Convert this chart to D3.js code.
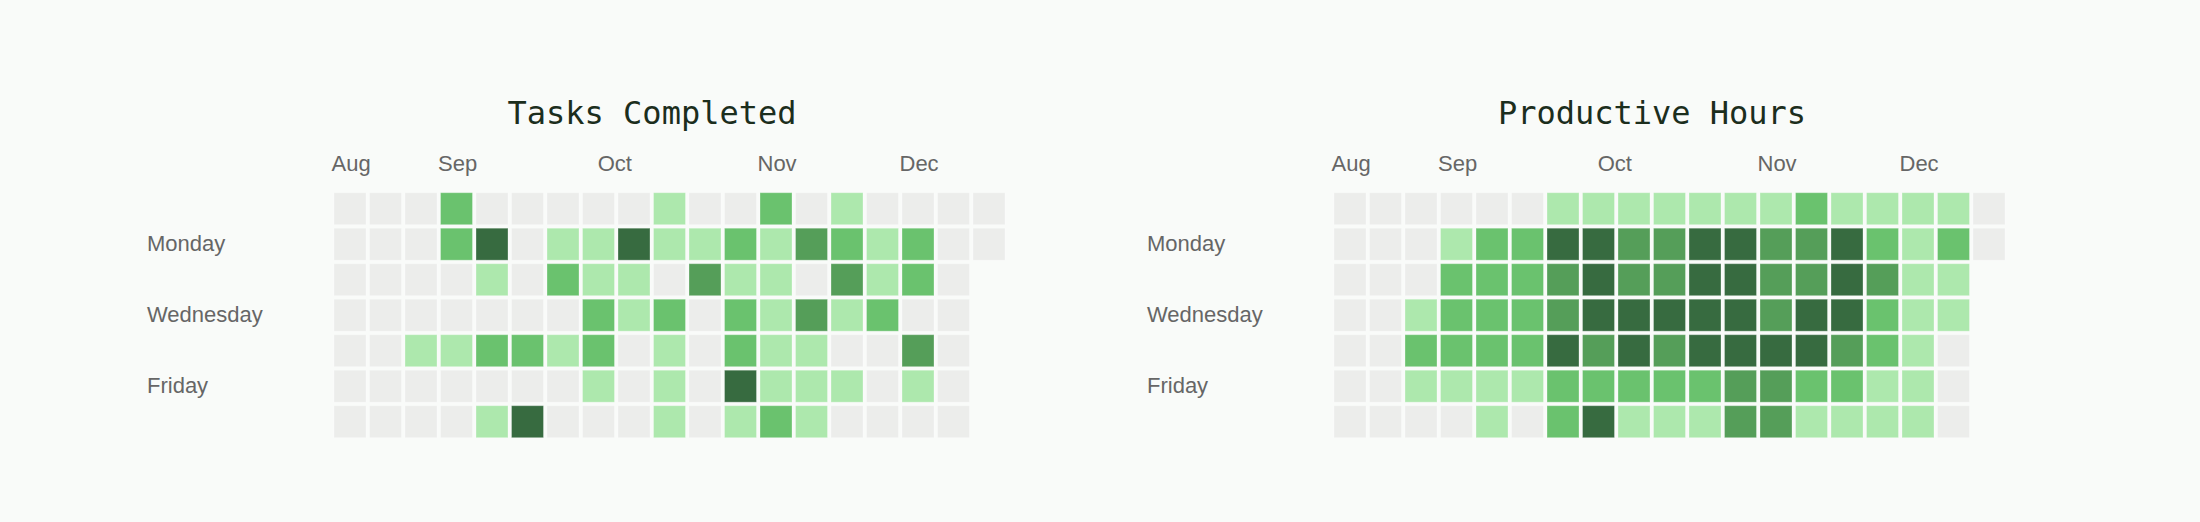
<!DOCTYPE html>
<html>
<head>
<meta charset="utf-8">
<script src="https://cdn.jsdelivr.net/npm/d3@7"></script>
<style>
  html, body { margin: 0; padding: 0; background: #f9fbf9; }
  svg { display: block; }
</style>
</head>
<body>
<svg id="chart" width="2200" height="522"></svg>
<script>
// ---- data ----
const weekdays = ["Sunday", "Monday", "Tuesday", "Wednesday", "Thursday", "Friday", "Saturday"];
const shownDays = ["Monday", "Wednesday", "Friday"];
const monthLabels = ["Aug", "Sep", "Oct", "Nov", "Dec"];
const monthWeeks = [0, 3, 7.5, 12, 16];
const levels = [0, 1, 2, 3, 4];
const levelColors = ["#ecedeb", "#ade8ad", "#6ac26e", "#559e59", "#376b40"];
const chartTitles = ["Tasks Completed", "Productive Hours"];

// activity level per weekday row (Sun..Sat), one entry per week column
const tasksCompleted = [
  [0,0,0,2,0,0,0,0,0,1,0,0,2,0,1,0,0,0,0],
  [0,0,0,2,4,0,1,1,4,1,1,2,1,3,2,1,2,0,0],
  [0,0,0,0,1,0,2,1,1,0,3,1,1,0,3,1,2,0],
  [0,0,0,0,0,0,0,2,1,2,0,2,1,3,1,2,0,0],
  [0,0,1,1,2,2,1,2,0,1,0,2,1,1,0,0,3,0],
  [0,0,0,0,0,0,0,1,0,1,0,4,1,1,1,0,1,0],
  [0,0,0,0,1,4,0,0,0,1,0,1,2,1,0,0,0,0]
];
const productiveHours = [
  [0,0,0,0,0,0,1,1,1,1,1,1,1,2,1,1,1,1,0],
  [0,0,0,1,2,2,4,4,3,3,4,4,3,3,4,2,1,2,0],
  [0,0,0,2,2,2,3,4,3,3,4,4,3,3,4,3,1,1],
  [0,0,1,2,2,2,3,4,4,4,4,4,3,4,4,2,1,1],
  [0,0,2,2,2,2,4,3,4,3,4,4,4,4,3,2,1,0],
  [0,0,1,1,1,1,2,2,2,2,2,3,3,2,2,1,1,0],
  [0,0,0,0,1,0,2,4,1,1,1,3,3,1,1,1,1,0]
];
const seriesList = [tasksCompleted, productiveHours];

// ---- layout ----
const svg = d3.select("#chart");
const nWeeks = 19;
const step = 35.5;
const pad = 3.5 / step;
const panelOffsets = [0, 1000];
const gridX = 334, gridY = 192.7;
const titleX = 652, titleY = 124;
const monthY = 171, dayLabelX = 147;

const x = d3.scaleBand().domain(d3.range(nWeeks)).range([0, (nWeeks - pad) * step]).paddingInner(pad).paddingOuter(0);
const y = d3.scaleBand().domain(weekdays).range([0, (7 - pad) * step]).paddingInner(pad).paddingOuter(0);
const xWeek = d3.scaleLinear().domain([0, nWeeks]).range([0, nWeeks * step]);
const color = d3.scaleOrdinal().domain(levels).range(levelColors);

seriesList.forEach((series, si) => {
  const g = svg.append("g").attr("transform", `translate(${panelOffsets[si]},0)`);

  g.append("text")
    .attr("x", titleX).attr("y", titleY)
    .attr("text-anchor", "middle")
    .style("font-family", "'DejaVu Sans Mono', monospace")
    .style("font-size", "32px")
    .style("fill", "#1c2e1d")
    .text(chartTitles[si]);

  const grid = g.append("g").attr("transform", `translate(${gridX},${gridY})`);

  const cells = [];
  series.forEach((row, r) => row.forEach((v, w) => cells.push({ day: weekdays[r], week: w, v })));

  grid.selectAll("rect").data(cells).join("rect")
    .attr("x", d => x(d.week))
    .attr("y", d => y(d.day))
    .attr("width", x.bandwidth())
    .attr("height", y.bandwidth())
    .attr("fill", d => color(d.v))
    .attr("stroke", "#ffffff")
    .attr("stroke-opacity", 0.3)
    .attr("stroke-width", 1);

  grid.selectAll(".month").data(monthLabels).join("text")
    .attr("class", "month")
    .attr("x", (d, i) => xWeek(monthWeeks[i]) - 2.5)
    .attr("y", monthY - gridY)
    .style("font-family", "'Liberation Sans', Arial, Helvetica, sans-serif")
    .style("font-size", "22px")
    .style("fill", "#666666")
    .text(d => d);

  g.selectAll(".day").data(shownDays).join("text")
    .attr("class", "day")
    .attr("x", dayLabelX)
    .attr("y", d => gridY + y(d) + y.bandwidth() / 2)
    .attr("dy", "0.33em")
    .style("font-family", "'Liberation Sans', Arial, Helvetica, sans-serif")
    .style("font-size", "22px")
    .style("fill", "#666666")
    .text(d => d);
});
</script>
</body>
</html>
